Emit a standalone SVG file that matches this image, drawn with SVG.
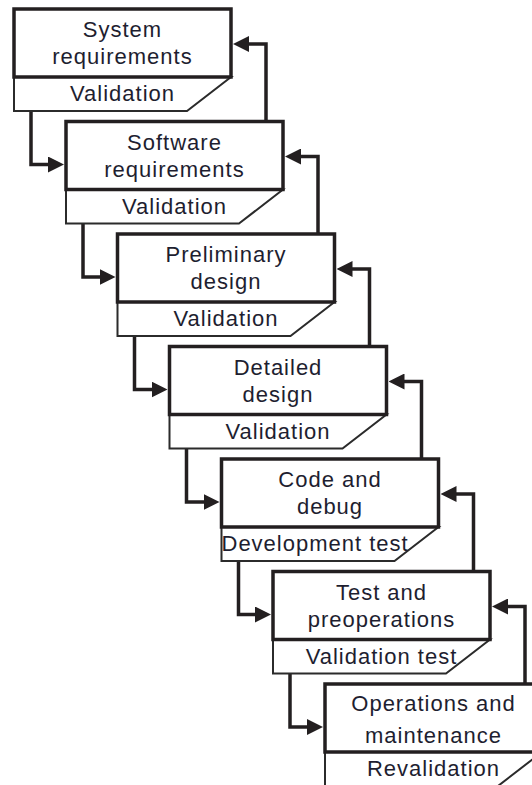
<svg xmlns="http://www.w3.org/2000/svg" width="532" height="785" viewBox="0 0 532 785">
<defs>
<style>
.main{fill:#fff;stroke:#231f20;stroke-width:3.5}
.val{fill:#fff;stroke:#2b2b2b;stroke-width:2;stroke-linejoin:miter}
.t{font-family:"Liberation Sans",Arial,sans-serif;font-size:22px;letter-spacing:1px;fill:#1e1e30;text-anchor:middle}
.ts{text-anchor:start}
.c{fill:none;stroke:#231f20;stroke-width:3.5;stroke-linejoin:miter;marker-end:url(#ah)}
</style>
<marker id="ah" markerUnits="userSpaceOnUse" markerWidth="16" markerHeight="16" refX="8" refY="8" orient="auto">
<path d="M0,0 L16,8 L0,16 z" fill="#231f20"/>
</marker>
</defs>
<rect width="532" height="785" fill="#fff"/>

<g id="connectors">
<path class="c" d="M31,111 V164.5 H56"/>
<path class="c" d="M83,223.5 V277 H107.5"/>
<path class="c" d="M134.5,336 V389.5 H159.5"/>
<path class="c" d="M186.5,448.5 V502 H211.5"/>
<path class="c" d="M238.5,561 V614.5 H263"/>
<path class="c" d="M290,673.5 V727 H315"/>
<path class="c" d="M266,121.5 V44 H241"/>
<path class="c" d="M318,234 V156.5 H293"/>
<path class="c" d="M369.5,346.5 V269 H344.5"/>
<path class="c" d="M421.5,459 V381.5 H396.5"/>
<path class="c" d="M473.5,571.5 V494 H448.5"/>
<path class="c" d="M525,684 V606.5 H500"/>
</g>

<g id="n1">
<polygon class="val" points="14,77 231,77 187,111 14,111"/>
<rect class="main" x="14" y="9" width="217" height="68"/>
<text class="t" x="122.5" y="37">System</text>
<text class="t" x="122.5" y="64">requirements</text>
<text class="t" x="122.5" y="101">Validation</text>
</g>

<g id="n2">
<polygon class="val" points="66,189.5 283,189.5 239,223.5 66,223.5"/>
<rect class="main" x="66" y="121.5" width="217" height="68"/>
<text class="t" x="174.5" y="149.5">Software</text>
<text class="t" x="174.5" y="176.5">requirements</text>
<text class="t" x="174.5" y="213.5">Validation</text>
</g>

<g id="n3">
<polygon class="val" points="117.5,302 334.5,302 290.5,336 117.5,336"/>
<rect class="main" x="117.5" y="234" width="217" height="68"/>
<text class="t" x="226" y="262">Preliminary</text>
<text class="t" x="226" y="289">design</text>
<text class="t" x="226" y="326">Validation</text>
</g>

<g id="n4">
<polygon class="val" points="169.5,414.5 386.5,414.5 342.5,448.5 169.5,448.5"/>
<rect class="main" x="169.5" y="346.5" width="217" height="68"/>
<text class="t" x="278" y="374.5">Detailed</text>
<text class="t" x="278" y="401.5">design</text>
<text class="t" x="278" y="438.5">Validation</text>
</g>

<g id="n5">
<polygon class="val" points="221.5,527 438.5,527 394.5,561 221.5,561"/>
<rect class="main" x="221.5" y="459" width="217" height="68"/>
<text class="t" x="330" y="487">Code and</text>
<text class="t" x="330" y="514">debug</text>
<text class="t ts" x="221.5" y="551">Development test</text>
</g>

<g id="n6">
<polygon class="val" points="273,639.5 490,639.5 446,673.5 273,673.5"/>
<rect class="main" x="273" y="571.5" width="217" height="68"/>
<text class="t" x="381.5" y="599.5">Test and</text>
<text class="t" x="381.5" y="626.5">preoperations</text>
<text class="t" x="381.5" y="663.5">Validation test</text>
</g>

<g id="n7">
<polygon class="val" points="325,752 542,752 498,786 325,786"/>
<rect class="main" x="325" y="684" width="217" height="68"/>
<text class="t" x="433.5" y="711">Operations and</text>
<text class="t" x="433.5" y="743">maintenance</text>
<text class="t" x="433.5" y="776">Revalidation</text>
</g>
</svg>
